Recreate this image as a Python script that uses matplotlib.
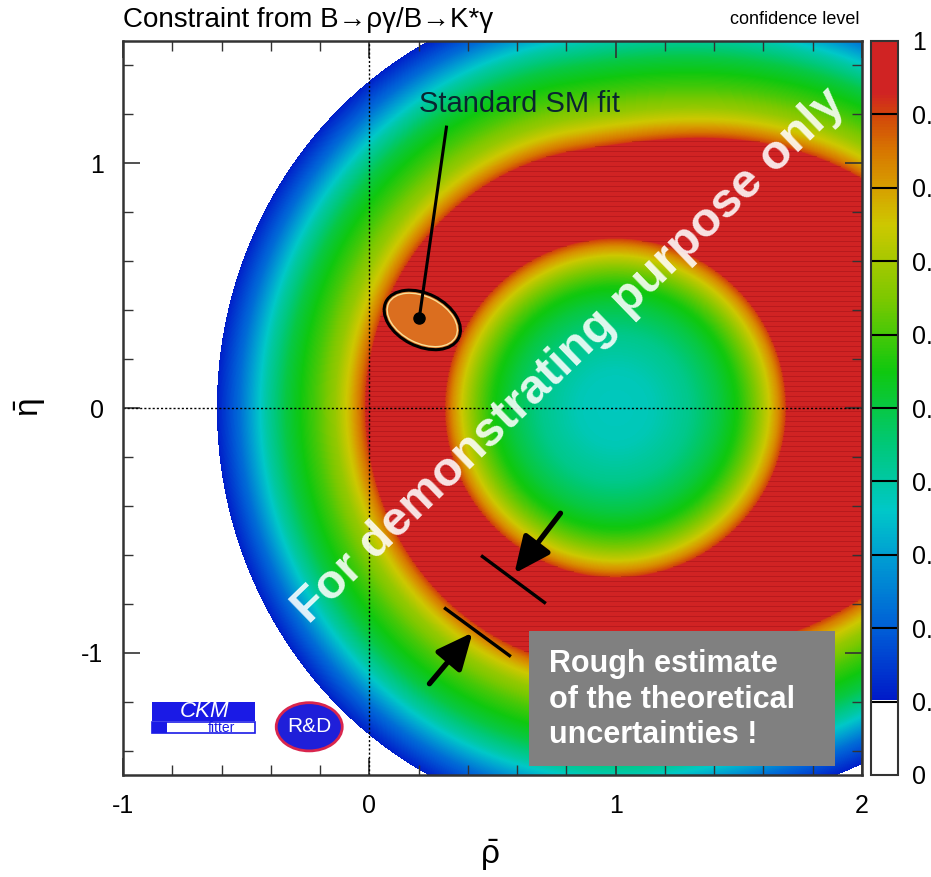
import numpy as np
import matplotlib
matplotlib.use("Agg")
import matplotlib.pyplot as plt
from matplotlib.colors import LinearSegmentedColormap, ListedColormap, Normalize
from matplotlib.cm import ScalarMappable
from matplotlib.patches import Ellipse, Rectangle

plt.rcParams['font.family'] = ['Liberation Sans Narrow', 'Liberation Sans', 'DejaVu Sans']
plt.rcParams['mathtext.fontset'] = 'dejavusans'
plt.rcParams['mathtext.default'] = 'regular'
plt.rcParams['axes.unicode_minus'] = False

# CL of the |Vtd/Vts| ring around (1, 0): rising edge inside, falling edge outside
ring_center = (1.0, 0.0)
inner_r = [0.00, 0.15, 0.30, 0.42, 0.50, 0.57, 0.62, 0.66, 0.69, 0.71]
inner_cl = [0.37, 0.38, 0.43, 0.50, 0.56, 0.65, 0.74, 0.82, 0.90, 1.00]
outer_r = [1.00, 1.02, 1.04, 1.08, 1.14, 1.22, 1.34, 1.42, 1.47, 1.53, 1.62, 1.625]
outer_cl = [1.00, 0.90, 0.85, 0.77, 0.68, 0.60, 0.50, 0.40, 0.32, 0.22, 0.11, 0.00]
outer_stretch = 1.05      # outer edge is a bit taller than wide
outer_shift = 0.48        # and pushed out towards large rho
outer_shift_dir = 0.15    # radians

# colour scale of the confidence level
cl_levels = [0.0, 0.0999, 0.10, 0.20, 0.30, 0.36, 0.45, 0.55, 0.65, 0.75, 0.80, 0.85, 0.90, 0.93, 1.0]
cl_colors = [(255, 255, 255), (255, 255, 255), (0, 25, 200), (0, 95, 215), (0, 160, 210),
             (0, 200, 200), (0, 200, 120), (15, 200, 15), (125, 200, 0), (205, 200, 0),
             (215, 160, 0), (215, 120, 0), (210, 70, 10), (208, 35, 35), (208, 35, 35)]
cbar_ticks = [0.0, 0.1, 0.2, 0.3, 0.4, 0.5, 0.6, 0.7, 0.8, 0.9, 1.0]
cbar_labels = ['0', '0.1', '0.2', '0.3', '0.4', '0.5', '0.6', '0.7', '0.8', '0.9', '1']

# standard SM fit
sm_center = (0.215, 0.36)
sm_size = (0.33, 0.215)
sm_angle = -27
sm_point = (0.203, 0.369)
sm_label_pos = (0.61, 1.242)
sm_line_start = (0.313, 1.148)

# theory uncertainty markers: (bar start, bar end, arrow tail, arrow tip)
markers = [
    ((0.459, -0.607), (0.711, -0.795), (0.776, -0.430), (0.589, -0.676)),
    ((0.309, -0.820), (0.569, -1.012), (0.244, -1.127), (0.419, -0.918)),
]

cmap = LinearSegmentedColormap.from_list(
    'cl', [(v, tuple(c / 255 for c in col)) for v, col in zip(cl_levels, cl_colors)])
norm = Normalize(0, 1)

fig = plt.figure(figsize=(9.31, 8.77), dpi=100)
ax = fig.add_axes([123 / 931, 1 - 775 / 877, 739 / 931, 734 / 877])

nx, ny = 739, 734
xs = np.linspace(-1, 2, nx)
ys = np.linspace(1.5, -1.5, ny)
X, Y = np.meshgrid(xs, ys)
dx, dy = X - ring_center[0], Y - ring_center[1]
r_in = np.hypot(dx, dy)
theta = np.arctan2(dy, dx)
push = np.clip(np.cos(theta - outer_shift_dir), 0, None) ** 2
r_out = np.hypot(dx, dy / outer_stretch) - outer_shift * push
CL = np.minimum(np.interp(r_in, inner_r, inner_cl, right=1.0),
                np.interp(r_out, outer_r, outer_cl, left=1.0, right=0.0))

ax.imshow(CL, cmap=cmap, norm=norm, extent=(-1, 2, -1.5, 1.5), aspect='auto',
          interpolation='bilinear', zorder=0)

# dark scan lines inside the plateau
rows = np.arange(ny)[:, None] * np.ones((1, nx))
stripes = np.where((CL >= 0.9) & (rows % 5 == 0), 1.0, np.nan)
ax.imshow(stripes, cmap=ListedColormap([(0.55, 0.05, 0.08)]), alpha=0.35,
          extent=(-1, 2, -1.5, 1.5), aspect='auto', interpolation='nearest', zorder=1)

ax.set_xlim(-1, 2)
ax.set_ylim(-1.5, 1.5)

# dotted axes through the origin
ax.axvline(0, color='k', lw=1.0, ls=(0, (1.5, 1.5)), zorder=2)
ax.axhline(0, color='k', lw=1.0, ls=(0, (1.5, 1.5)), zorder=2)

ax.set_xticks([-1, 0, 1, 2])
ax.set_yticks([-1, 0, 1])
ax.set_xticks(np.arange(-1, 2.01, 0.2), minor=True)
ax.set_yticks(np.arange(-1.4, 1.41, 0.2), minor=True)
ax.tick_params(which='both', direction='in', top=True, right=True, color='#333333')
ax.tick_params(which='major', length=12, width=1.2, labelsize=18, pad=14)
ax.tick_params(which='minor', length=7, width=1.0)
for s in ax.spines.values():
    s.set_linewidth(1.8)
    s.set_color('#333333')

# SM fit contour
ax.add_patch(Ellipse(sm_center, sm_size[0], sm_size[1], angle=sm_angle,
                     facecolor=(0.86, 0.43, 0.12), edgecolor='k', lw=2.2, zorder=3))
ax.add_patch(Ellipse(sm_center, sm_size[0] - 0.025, sm_size[1] - 0.025, angle=sm_angle,
                     facecolor='none', edgecolor=(0.98, 0.88, 0.6), lw=1.0, zorder=3))
ax.plot([sm_line_start[0], sm_point[0]], [sm_line_start[1], sm_point[1]],
        color='k', lw=2.2, zorder=4)
ax.plot(sm_point[0], sm_point[1], 'o', color='k', ms=8, zorder=4)
ax.text(sm_label_pos[0], sm_label_pos[1], 'Standard SM fit', ha='center', va='center',
        fontsize=21, color='#0a2530', zorder=4)

# theory uncertainty bars and arrows
for (b0, b1, tail, tip) in markers:
    ax.plot([b0[0], b1[0]], [b0[1], b1[1]], color='k', lw=2.4, zorder=4)
    ax.annotate('', xy=tip, xytext=tail, zorder=4,
                arrowprops=dict(arrowstyle='-|>,head_length=1.1,head_width=0.5',
                                mutation_scale=20, lw=3.8, color='k',
                                shrinkA=0, shrinkB=0))

# note box
ax.add_patch(Rectangle((0.65, -1.463), 1.24, 0.553, facecolor=(0.5, 0.5, 0.5),
                       edgecolor='none', zorder=5))
ax.text(0.73, -0.985, 'Rough estimate\nof the theoretical\nuncertainties !', ha='left', va='top',
        fontsize=22, fontweight='bold', color='white', family=['Liberation Sans', 'DejaVu Sans'],
        linespacing=1.24, zorder=6)

# watermark
ax.text(0.81, 0.21, 'For demonstrating purpose only', rotation=44, rotation_mode='anchor',
        ha='center', va='center', fontsize=35, fontweight='bold', color='white', alpha=0.88,
        family=['Liberation Sans', 'DejaVu Sans'], zorder=6)

# logos
ax.add_patch(Rectangle((-0.882, -1.279), 0.419, 0.078, facecolor=(0.1, 0.1, 0.9),
                       edgecolor='none', zorder=5))
ax.text(-0.67, -1.242, 'CKM', ha='center', va='center', fontsize=16, style='italic',
        color='white', family=['Liberation Sans', 'DejaVu Sans'], zorder=6)
ax.add_patch(Rectangle((-0.882, -1.33), 0.419, 0.045, facecolor='white',
                       edgecolor=(0.1, 0.1, 0.9), lw=1.2, zorder=5))
ax.add_patch(Rectangle((-0.882, -1.33), 0.06, 0.045, facecolor=(0.1, 0.1, 0.9),
                       edgecolor='none', zorder=5))
ax.text(-0.60, -1.308, 'fitter', ha='center', va='center', fontsize=10,
        color=(0.1, 0.1, 0.9), family=['Liberation Sans', 'DejaVu Sans'], zorder=6)
ax.add_patch(Ellipse((-0.244, -1.303), 0.268, 0.197, facecolor=(0.12, 0.12, 0.85),
                     edgecolor=(0.85, 0.15, 0.3), lw=2, zorder=5))
ax.text(-0.244, -1.300, 'R&D', ha='center', va='center', fontsize=15, color='white',
        family=['Liberation Sans', 'DejaVu Sans'], zorder=6)

# colour bar
cax = fig.add_axes([871 / 931, 1 - 775 / 877, 27 / 931, 734 / 877])
cb = fig.colorbar(ScalarMappable(norm=norm, cmap=cmap), cax=cax, ticks=cbar_ticks)
cb.set_ticklabels(cbar_labels)
cax.tick_params(length=0, labelsize=18, pad=10)
cb.outline.set_linewidth(1.5)
cb.outline.set_edgecolor('#333333')
for lev in cbar_ticks[1:-1]:
    cax.axhline(lev, color='k', lw=1.5)

fig.text(123 / 931, 1 - 20 / 877, 'Constraint from B\u2192\u03c1\u03b3/B\u2192K*\u03b3',
         ha='left', va='center', fontsize=20)
fig.text(860 / 931, 1 - 20 / 877, 'confidence level', ha='right', va='center', fontsize=13)
fig.text(490 / 931, 1 - 855 / 877, r'$\bar{\rho}$', ha='center', va='center', fontsize=24)
fig.text(30 / 931, 1 - 408 / 877, r'$\bar{\eta}$', ha='center', va='center', fontsize=24,
         rotation=90)

fig.savefig('out.png', dpi=100)
